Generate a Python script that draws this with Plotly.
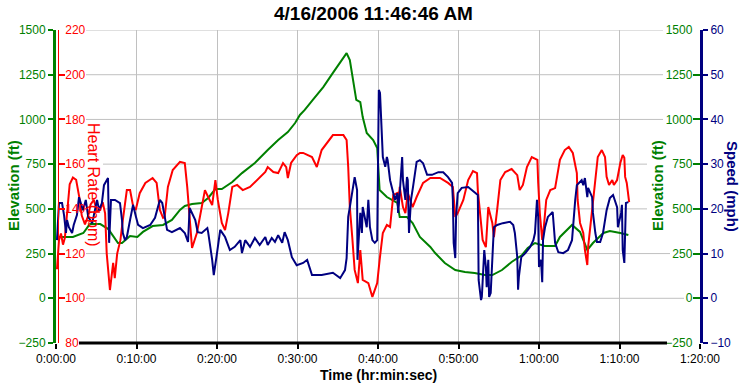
import plotly.graph_objects as go

# ---------------- data ----------------
title_text = "4/16/2006 11:46:46 AM"
x_tick_vals = [0, 10, 20, 30, 40, 50, 60, 70, 80]          # minutes
x_tick_text = ["0:00:00", "0:10:00", "0:20:00", "0:30:00", "0:40:00",
               "0:50:00", "1:00:00", "1:10:00", "1:20:00"]
elev_ticks = [-250, 0, 250, 500, 750, 1000, 1250, 1500]
hr_ticks = [80, 100, 120, 140, 160, 180, 200, 220]
speed_ticks = [-10, 0, 10, 20, 30, 40, 50, 60]

# Elevation (ft) vs elapsed minutes
elev_t = [0.1, 2.1, 3.4, 4.2, 5.5, 6.5, 7.7, 8.2, 9.2, 10.1, 10.8, 12.0, 13.3, 14.4, 15.4,
          16.0, 16.9, 18.1, 18.9, 19.8, 20.6, 21.9, 23.1, 24.7, 26.3, 27.6, 28.8, 29.7, 30.3,
          30.9, 31.9, 33.2, 34.4, 35.3, 36.1, 36.5, 36.9, 37.3, 37.8, 38.1, 38.6, 39.4, 39.9,
          40.1, 40.2, 41.1, 42.4, 42.7, 43.6, 44.3, 45.2, 46.5, 47.1, 48.3, 49.6, 50.8, 52.0,
          53.3, 54.2, 55.4, 56.6, 57.9, 58.6, 59.5, 60.7, 62.0, 62.6, 64.1, 65.1, 66.0, 66.7,
          68.0, 68.8, 70.1, 71.1]
elev_ft = [343, 343, 365, 415, 415, 387, 309, 309, 348, 343, 371, 404, 410, 438, 494,
           516, 527, 533, 561, 611, 611, 650, 700, 756, 829, 885, 929, 980, 1025,
           1053, 1109, 1181, 1260, 1321, 1371, 1332, 1220, 1109, 1097, 1013, 924, 885, 840,
           661, 605, 566, 533, 454, 454, 421, 343, 287, 253, 197, 158, 147, 141,
           130, 130, 158, 203, 242, 281, 309, 292, 292, 343, 410, 371, 270, 309,
           365, 376, 365, 354]

# Heart rate (bpm) vs elapsed minutes
hr_t = [0.12, 0.37, 0.62, 0.87, 1.1, 1.4, 1.7, 2.1, 2.5, 2.9,
        3.2, 3.6, 4.0, 4.3, 4.7, 5.1, 5.5, 5.8, 6.1, 6.3,
        6.7, 7.1, 7.3, 7.6, 8.0, 8.3, 8.8, 9.2, 9.6, 9.9,
        10.4, 11.1, 12.0, 12.5, 12.9, 13.3, 13.5, 13.9, 14.5, 15.4,
        16.0, 16.3, 16.6, 16.9, 17.5, 18.1, 18.5, 18.9, 19.4, 19.8,
        20.1, 20.6, 21.0, 21.4, 21.9, 22.5, 23.2, 24.1, 25.0, 26.0,
        26.3, 27.0, 27.6, 28.2, 28.6, 28.8, 29.2, 29.9, 30.3, 30.7,
        31.8, 32.4, 33.0, 33.7, 34.4, 35.7, 36.1, 36.3, 36.5, 36.8,
        37.1, 37.5, 37.8, 38.1, 38.8, 39.3, 39.6, 39.9, 40.2, 40.6,
        41.1, 41.5, 41.9, 42.4, 42.5, 42.7, 43.1, 43.4, 43.7, 44.3,
        44.8, 45.6, 46.5, 47.7, 48.7, 49.3, 49.6, 49.9, 50.6, 51.2,
        51.8, 52.3, 52.4, 52.7, 53.0, 53.4, 53.7, 54.2, 54.4, 54.8,
        55.2, 55.8, 56.6, 57.3, 57.6, 58.0, 58.5, 59.1, 59.8, 59.9,
        60.1, 60.4, 60.6, 60.9, 61.4, 62.0, 62.6, 63.2, 63.7, 64.2,
        64.7, 64.8, 65.1, 65.5, 65.7, 66.0, 66.1, 66.6, 67.0, 67.3,
        67.8, 68.2, 68.4, 68.7, 69.1, 69.3, 69.7, 70.1, 70.4, 70.6,
        70.7, 70.9, 71.2]
hr_bpm = [113, 126, 129, 124, 127, 140, 151, 154, 153, 145,
          137, 133, 137, 142, 144, 139, 139.5, 143, 138, 120,
          103.7, 115.8, 109, 120, 126, 135, 148.4, 148.4, 140.8, 139.5,
          147, 151.6, 153.8, 151.6, 139.5, 136, 136.4, 149.8, 157.4, 161,
          160.5, 149.8, 135, 122.5, 129.2, 140.8, 148.4, 145.3, 141.7, 152.9,
          144, 133.7, 130.5, 138.1, 149.8, 150.7, 148.4, 149.8, 152.9, 156.5,
          158.7, 156.5, 156, 160.5, 158.7, 153.8, 160.5, 164, 165, 165,
          163.2, 158.7, 166.3, 169.9, 173, 173, 170.8, 158.7, 140.8, 127.4,
          112.7, 106.8, 121.6, 108.2, 106.8, 100.6, 103.7, 106.8, 117.1, 129.2,
          132.8, 131.9, 146.2, 147.1, 140.8, 149.8, 140.8, 138.1, 147.1, 140.8,
          145.3, 151.6, 153.8, 153.8, 151.6, 149.8, 136.4, 138.1, 144, 152.9,
          156.9, 156, 148.4, 136.4, 126.1, 122.9, 140.8, 133.7, 127.4, 139.5,
          152.9, 156.5, 157.8, 155.1, 148.4, 150.7, 158.7, 163.2, 161.9, 151.6,
          138.1, 126.1, 131.9, 144, 148.4, 149.3, 161.9, 166.3, 167.7, 165,
          156, 144, 133.7, 129.2, 121.6, 114.9, 122.9, 139.5, 152.9, 163.2,
          166.3, 163.2, 154.3, 150.7, 152.9, 150.7, 152.9, 160.5, 164.1, 162.8,
          154.3, 151.6, 143]

# Speed (mph) vs elapsed minutes
sp_t = [0.12, 0.37, 0.75, 1.0, 1.24, 1.37, 1.6, 2.0, 2.2, 2.6,
        2.86, 3.35, 3.7, 4.0, 4.5, 4.85, 5.1, 5.35, 5.7, 5.96,
        6.3, 6.46, 6.6, 6.83, 7.33, 7.95, 8.2, 8.3, 8.57, 8.8,
        9.2, 9.57, 9.94, 10.2, 10.8, 11.7, 12.3, 12.7, 12.9, 13.2,
        13.5, 13.8, 14.4, 15.4, 16.0, 16.4, 16.6, 17.3, 17.6, 18.1,
        18.8, 18.9, 19.4, 19.6, 20.0, 20.4, 21.0, 21.6, 22.2, 22.9,
        23.1, 23.5, 24.1, 24.7, 25.3, 26.0, 26.3, 26.8, 27.2, 27.6,
        28.1, 28.4, 28.8, 29.3, 29.9, 30.7, 31.2, 31.8, 33.0, 34.4,
        35.3, 35.9, 36.1, 36.3, 36.5, 36.9, 37.1, 37.4, 37.45, 37.5,
        37.8, 38.0, 38.1, 38.6, 38.8, 39.0, 39.3, 39.6, 39.9, 39.95,
        40.0, 40.1, 40.25, 40.4, 40.5, 40.6, 40.9, 41.1, 41.2, 41.5,
        41.9, 42.1, 42.4, 42.5, 42.7, 43.0, 43.1, 43.4, 43.6, 43.7,
        43.85, 44.1, 44.35, 44.8, 45.2, 45.6, 46.1, 46.7, 47.5, 48.1,
        48.7, 49.2, 49.3, 49.4, 49.6, 49.7, 49.9, 50.4, 51.2, 52.0,
        52.4, 52.45, 52.5, 52.8, 52.9, 53.2, 53.4, 53.5, 53.7, 53.8,
        54.0, 54.3, 54.4, 54.8, 55.5, 56.4, 56.8, 57.0, 57.3, 57.4,
        57.5, 57.8, 58.3, 58.9, 59.3, 59.5, 59.75, 59.9, 60.0, 60.25,
        60.4, 60.5, 60.75, 61.1, 61.7, 62.0, 62.4, 63.0, 63.6, 64.1,
        64.2, 64.5, 64.7, 65.3, 65.5, 65.7, 66.0, 66.1, 66.6, 66.7,
        67.0, 67.2, 67.6, 67.95, 68.4, 68.8, 69.2, 69.7, 69.8, 70.2,
        70.3, 70.4, 70.6, 70.7, 70.8, 71.1]
sp_mph = [13.0, 21.3, 21.3, 18.6, 14.6, 17.5, 15.9, 14.6, 16.4, 18.6,
          22.6, 19.7, 22.0, 18.2, 16.8, 19.7, 22.0, 19.7, 21.3, 25.3,
          26.4, 26.9, 12.4, 22.0, 22.0, 21.3, 17.5, 14.6, 13.0, 13.7,
          17.5, 20.9, 18.2, 16.4, 15.7, 16.4, 18.0, 20.4, 22.0, 21.3,
          18.2, 15.3, 14.8, 15.7, 14.6, 12.6, 20.2, 17.5, 14.8, 14.6,
          15.7, 14.8, 8.6, 5.2, 10.1, 15.3, 13.7, 10.8, 11.5, 13.0,
          10.1, 13.0, 11.5, 13.5, 11.9, 13.7, 11.9, 13.5, 12.6, 14.1,
          12.4, 14.8, 13.0, 9.2, 7.4, 7.9, 8.6, 5.2, 5.2, 5.7,
          4.5, 6.3, 9.0, 18.2, 20.4, 24.9, 27.1, 24.2, 8.6, 10.1,
          19.1, 14.6, 20.4, 15.9, 22.0, 15.9, 13.0, 12.4, 13.0, 28.0,
          37.6, 46.6, 45.9, 38.3, 35.4, 31.6, 29.4, 31.6, 30.9, 26.4,
          23.5, 22.0, 23.5, 19.1, 23.5, 31.6, 26.4, 22.0, 27.1, 26.4,
          14.6, 22.0, 24.9, 30.5, 30.9, 30.2, 27.6, 27.6, 28.2, 28.2,
          27.1, 25.8, 22.0, 12.4, 9.0, 18.2, 23.5, 24.7, 24.9, 23.8,
          23.1, 14.6, 4.1, -0.4, 0.3, 10.8, 7.0, 2.5, 8.6, 0.3,
          1.2, 12.4, 15.9, 16.4, 16.8, 17.1, 16.4, 14.6, 9.2, 1.9,
          4.8, 9.2, 10.1, 11.5, 13.0, 14.6, 22.0, 18.2, 7.0, 8.6,
          3.6, 13.0, 15.9, 18.2, 19.3, 12.4, 10.3, 10.1, 10.8, 13.0,
          15.9, 22.0, 25.3, 26.4, 25.3, 26.9, 22.6, 24.7, 22.6, 19.1,
          14.6, 12.6, 12.6, 14.6, 19.7, 22.4, 23.1, 20.4, 15.9, 19.1,
          20.9, 10.8, 7.9, 18.6, 21.3, 21.5]

# ---------------- style ----------------
GREEN = "#008000"
RED = "#FF0000"
NAVY = "#000080"
GRID = "#C0C0C0"
TICKFONT = "Liberation Sans, Arial, sans-serif"
W, H = 745, 385
ML, MR, MT, MB = 56, 45, 30, 42
PW, PH = W - ML - MR, H - MT - MB

# horizontal gridline extents (pixels) so they stop at the inner tick labels / titles
grid_left_px = {0: 86, 250: 86, 500: 103, 750: 103, 1000: 86, 1250: 86, 1500: 86}
grid_right_px = {0: 684, 250: 670, 500: 647, 750: 647, 1000: 663, 1250: 663, 1500: 663}


def px(xp):
    return (xp - ML) / PW


def py(yp):
    return (H - MB - yp) / PH


fig = go.Figure()
fig.add_trace(go.Scatter(x=elev_t, y=elev_ft, mode="lines", yaxis="y",
                         line=dict(color=GREEN, width=2), hoverinfo="skip"))
fig.add_trace(go.Scatter(x=hr_t, y=hr_bpm, mode="lines", yaxis="y2",
                         line=dict(color=RED, width=2), hoverinfo="skip"))
fig.add_trace(go.Scatter(x=elev_t, y=elev_ft, mode="lines", yaxis="y3",
                         line=dict(color=GREEN, width=2), opacity=0, hoverinfo="skip"))
fig.add_trace(go.Scatter(x=sp_t, y=sp_mph, mode="lines", yaxis="y4",
                         line=dict(color=NAVY, width=2), hoverinfo="skip"))

fig.update_layout(
    width=W, height=H,
    margin=dict(l=ML, r=MR, t=MT, b=MB, pad=0),
    paper_bgcolor="white", plot_bgcolor="white",
    showlegend=False,
    xaxis=dict(range=[0, 80], tickmode="array", tickvals=x_tick_vals, ticktext=x_tick_text,
               showgrid=True, gridcolor=GRID, gridwidth=1, zeroline=False,
               showline=False,
               ticks="outside", ticklen=5, tickwidth=2, tickcolor="black",
               tickfont=dict(family=TICKFONT, size=12, color="black")),
    yaxis=dict(range=[-250, 1500], tickmode="array", tickvals=elev_ticks,
               showgrid=False, zeroline=False,
               showline=True, linecolor=GREEN, linewidth=3,
               ticks="outside", ticklen=5, tickwidth=2, tickcolor=GREEN,
               tickfont=dict(family=TICKFONT, size=12, color=GREEN)),
    yaxis2=dict(range=[80, 220], tickmode="array", tickvals=hr_ticks, overlaying="y",
                side="left", anchor="free", position=0.0025,
                showgrid=False, zeroline=False,
                showline=True, linecolor=RED, linewidth=1,
                ticks="inside", ticklen=6, tickwidth=2, tickcolor=RED,
                ticklabelposition="inside", ticklabeloverflow="allow",
                tickfont=dict(family=TICKFONT, size=12, color=RED)),
    yaxis3=dict(range=[-250, 1500], tickmode="array", tickvals=elev_ticks, overlaying="y",
                side="right", anchor="x",
                showgrid=False, zeroline=False, showline=False,
                ticks="inside", ticklen=7, tickwidth=2, tickcolor=GREEN,
                ticklabelposition="inside", ticklabeloverflow="allow",
                tickfont=dict(family=TICKFONT, size=12, color=GREEN)),
    yaxis4=dict(range=[-10, 60], tickmode="array", tickvals=speed_ticks, overlaying="y",
                side="right", anchor="x",
                showgrid=False, zeroline=False,
                showline=True, linecolor=NAVY, linewidth=3,
                ticks="outside", ticklen=5, tickwidth=2, tickcolor=NAVY,
                tickfont=dict(family=TICKFONT, size=12, color=NAVY)),
)

# horizontal gridlines (below the traces), one per elevation tick
for v in elev_ticks:
    if v in grid_left_px:
        fig.add_shape(type="line", xref="paper", yref="y",
                      x0=px(grid_left_px[v]), x1=px(grid_right_px[v]), y0=v, y1=v,
                      line=dict(color=GRID, width=1), layer="below")

# black time-axis baseline, interrupted by the inner bottom tick labels
fig.add_shape(type="line", xref="paper", yref="paper",
              x0=px(79), x1=px(667), y0=0, y1=0,
              line=dict(color="black", width=3), layer="above")

TF = "Liberation Sans, Arial, sans-serif"
ann = [
    dict(text="<b>" + title_text + "</b>", x=px(373), y=py(13), textangle=0,
         font=dict(family=TF, size=19, color="black")),
    dict(text="<b>Time (hr:min:sec)</b>", x=px(378), y=py(375), textangle=0,
         font=dict(family=TF, size=14, color="black")),
    dict(text="<b>Elevation (ft)</b>", x=px(13), y=py(186), textangle=-90,
         font=dict(family=TF, size=15, color=GREEN)),
    dict(text="Heart Rate (bpm)", x=px(94), y=py(185), textangle=90,
         font=dict(family=TF, size=16, color=RED)),
    dict(text="<b>Elevation (ft)</b>", x=px(657), y=py(186), textangle=-90,
         font=dict(family=TF, size=15, color=GREEN)),
    dict(text="<b>Speed (mph)</b>", x=px(733), y=py(186), textangle=90,
         font=dict(family=TF, size=15, color=NAVY)),
]
for a in ann:
    fig.add_annotation(xref="paper", yref="paper", showarrow=False,
                       xanchor="center", yanchor="middle", **a)

fig.write_html("out.html")
